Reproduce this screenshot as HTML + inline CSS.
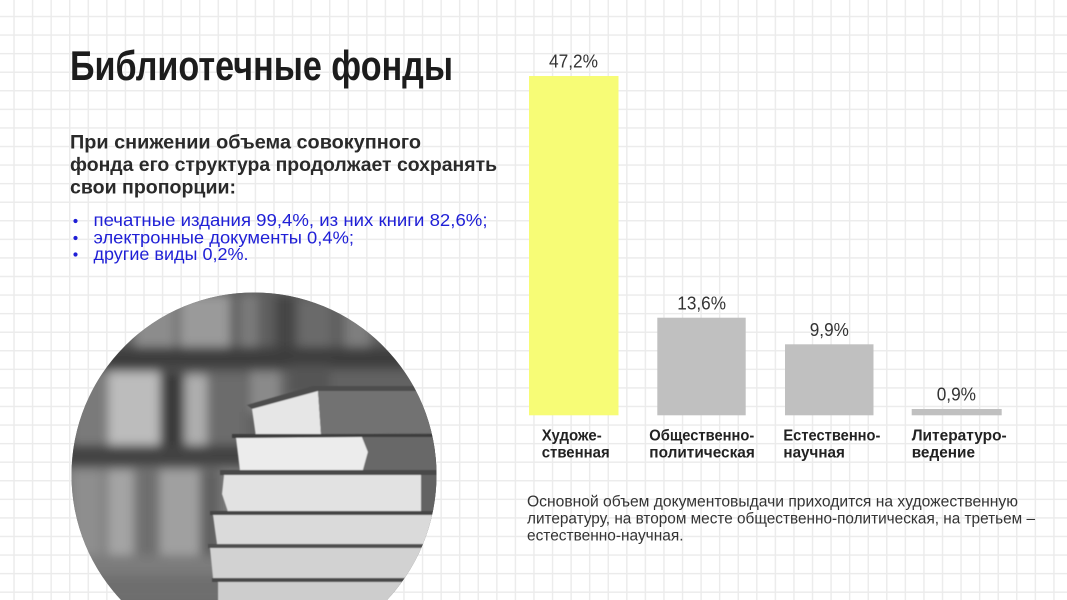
<!DOCTYPE html>
<html>
<head>
<meta charset="utf-8">
<style>
html,body{margin:0;padding:0;background:#fff;overflow:hidden;}
svg{display:block}
</style>
</head>
<body>
<svg width="1067" height="600" viewBox="0 0 1067 600" xmlns="http://www.w3.org/2000/svg" font-family="'Liberation Sans', sans-serif">
<defs>
  <pattern id="g" x="13.3" y="15.8" width="18.57" height="18.57" patternUnits="userSpaceOnUse">
    <rect x="0" y="0" width="1.4" height="18.57" fill="#ebebeb"/>
    <rect x="0" y="0" width="18.57" height="1.4" fill="#ebebeb"/>
  </pattern>
  <clipPath id="c"><circle cx="254" cy="475" r="182.5"/></clipPath>
  <filter id="bl" x="-10%" y="-10%" width="120%" height="120%"><feGaussianBlur stdDeviation="5"/></filter>
  <filter id="bl2"><feGaussianBlur stdDeviation="0.6"/></filter>
</defs>

<rect width="1067" height="600" fill="#fff"/>
<rect width="1067" height="600" fill="url(#g)"/>

<!-- Title -->
<text x="70" y="80" font-size="42" font-weight="bold" fill="#1c1c1c" textLength="383" lengthAdjust="spacingAndGlyphs">Библиотечные фонды</text>

<!-- Subheading -->
<g font-size="19" font-weight="bold" fill="#2a2a2a">
  <text x="70" y="148.3" textLength="351" lengthAdjust="spacingAndGlyphs">При снижении объема совокупного</text>
  <text x="70" y="170.8" textLength="427" lengthAdjust="spacingAndGlyphs">фонда его структура продолжает сохранять</text>
  <text x="70" y="193.3" textLength="166" lengthAdjust="spacingAndGlyphs">свои пропорции:</text>
</g>

<!-- Bullets -->
<g fill="#1f1fd6">
  <circle cx="75.5" cy="221" r="2.1"/>
  <circle cx="75.5" cy="238" r="2.1"/>
  <circle cx="75.5" cy="254.5" r="2.1"/>
  <g font-size="17.5">
    <text x="93.5" y="226" textLength="394" lengthAdjust="spacingAndGlyphs">печатные издания 99,4%, из них книги 82,6%;</text>
    <text x="93.5" y="243.3" textLength="260.5" lengthAdjust="spacingAndGlyphs">электронные документы 0,4%;</text>
    <text x="93.5" y="260" textLength="155" lengthAdjust="spacingAndGlyphs">другие виды 0,2%.</text>
  </g>
</g>

<!-- Photo -->
<g clip-path="url(#c)">
  <rect x="60" y="285" width="390" height="320" fill="#6a6a6a"/>
  <g filter="url(#bl)">
    <rect x="60" y="285" width="390" height="62" fill="#5e5e5e"/>
    <rect x="135" y="295" width="40" height="52" fill="#8c8c8c"/>
    <rect x="180" y="295" width="50" height="52" fill="#9a9a9a"/>
    <rect x="240" y="295" width="18" height="52" fill="#7a7a7a"/>
    <rect x="275" y="295" width="20" height="52" fill="#454545"/>
    <rect x="300" y="300" width="30" height="47" fill="#6a6a6a"/>
    <rect x="345" y="305" width="25" height="42" fill="#7e7e7e"/>
    <rect x="60" y="347" width="390" height="22" fill="#3c3c3c"/>
    <rect x="60" y="369" width="390" height="78" fill="#626262"/>
    <rect x="72" y="372" width="34" height="75" fill="#7a7a7a"/>
    <rect x="108" y="372" width="52" height="75" fill="#bcbcbc"/>
    <rect x="160" y="372" width="23" height="75" fill="#3a3a3a"/>
    <rect x="185" y="375" width="22" height="72" fill="#aeaeae"/>
    <rect x="208" y="375" width="38" height="72" fill="#6c6c6c"/>
    <rect x="250" y="372" width="30" height="40" fill="#8a8a8a"/>
    <rect x="290" y="365" width="40" height="30" fill="#555"/>
    <rect x="60" y="445" width="390" height="22" fill="#424242"/>
    <rect x="60" y="467" width="390" height="88" fill="#7a7a7a"/>
    <rect x="72" y="470" width="30" height="85" fill="#8e8e8e"/>
    <rect x="108" y="470" width="25" height="85" fill="#a4a4a4"/>
    <rect x="138" y="470" width="20" height="85" fill="#6e6e6e"/>
    <rect x="160" y="470" width="40" height="85" fill="#a0a0a0"/>
    <rect x="200" y="470" width="20" height="85" fill="#606060"/>
    <rect x="60" y="555" width="390" height="50" fill="#7c7c7c"/>
    <rect x="60" y="575" width="390" height="30" fill="#6e6e6e"/>
  </g>
  <g filter="url(#bl2)">
    <polygon points="247,405 313,386 416,386 418,391 318,391 252,409" fill="#4e4e4e"/>
    <polygon points="252,409 318,391 321,435 256,437" fill="#e6e6e6"/>
    <polygon points="318,391 432,391 436,433 321,434" fill="#727272"/>
    <rect x="232" y="434" width="210" height="4" fill="#3e3e3e"/>
    <polygon points="236,438 362,437 368,452 363,470 240,471" fill="#ececec"/>
    <polygon points="362,437 440,437 440,470 363,470 368,452" fill="#676767"/>
    <rect x="220" y="470" width="222" height="5" fill="#4a4a4a"/>
    <polygon points="224,475 421,475 421,511 228,512 222,494" fill="#e2e2e2"/>
    <rect x="421" y="475" width="20" height="37" fill="#636363"/>
    <rect x="210" y="511" width="232" height="4" fill="#454545"/>
    <polygon points="213,515 434,515 434,544 217,544 215,530" fill="#dadada"/>
    <rect x="208" y="544" width="234" height="4" fill="#4f4f4f"/>
    <polygon points="210,548 426,548 426,578 213,578" fill="#d2d2d2"/>
    <rect x="426" y="548" width="16" height="30" fill="#6c6c6c"/>
    <rect x="212" y="578" width="230" height="4" fill="#4a4a4a"/>
    <rect x="218" y="582" width="224" height="20" fill="#cdcdcd"/>
  </g>
</g>

<!-- Bars -->
<rect x="529" y="76" width="89.5" height="339.3" fill="#f7fc76"/>
<rect x="657.3" y="317.7" width="88.4" height="97.6" fill="#c0c0c0"/>
<rect x="785" y="344.3" width="88.5" height="71" fill="#c0c0c0"/>
<rect x="911.7" y="409" width="90" height="6.3" fill="#c0c0c0"/>

<!-- Value labels -->
<g font-size="18" fill="#333">
  <text x="549" y="67.3" textLength="49" lengthAdjust="spacingAndGlyphs">47,2%</text>
  <text x="677.3" y="309.3" textLength="48.7" lengthAdjust="spacingAndGlyphs">13,6%</text>
  <text x="809.8" y="336" textLength="39" lengthAdjust="spacingAndGlyphs">9,9%</text>
  <text x="936.7" y="400.6" textLength="39.3" lengthAdjust="spacingAndGlyphs">0,9%</text>
</g>

<!-- Category labels -->
<g font-size="15.5" font-weight="bold" fill="#222">
  <text x="541.7" y="440.7" textLength="60" lengthAdjust="spacingAndGlyphs">Художе-</text>
  <text x="541.7" y="457.3" textLength="68" lengthAdjust="spacingAndGlyphs">ственная</text>
  <text x="649.3" y="440.7" textLength="105" lengthAdjust="spacingAndGlyphs">Общественно-</text>
  <text x="649.3" y="457.3" textLength="105.5" lengthAdjust="spacingAndGlyphs">политическая</text>
  <text x="783.4" y="440.7" textLength="97" lengthAdjust="spacingAndGlyphs">Естественно-</text>
  <text x="783.4" y="457.3" textLength="61.5" lengthAdjust="spacingAndGlyphs">научная</text>
  <text x="911.7" y="440.7" textLength="95" lengthAdjust="spacingAndGlyphs">Литературо-</text>
  <text x="911.7" y="457.3" textLength="63.3" lengthAdjust="spacingAndGlyphs">ведение</text>
</g>

<!-- Bottom paragraph -->
<g font-size="15.5" fill="#333">
  <text x="527" y="506.5" textLength="491" lengthAdjust="spacingAndGlyphs">Основной объем документовыдачи приходится на художественную</text>
  <text x="527" y="523.5" textLength="508" lengthAdjust="spacingAndGlyphs">литературу, на втором месте общественно-политическая, на третьем –</text>
  <text x="527" y="540.5" textLength="156.5" lengthAdjust="spacingAndGlyphs">естественно-научная.</text>
</g>
</svg>
</body>
</html>
